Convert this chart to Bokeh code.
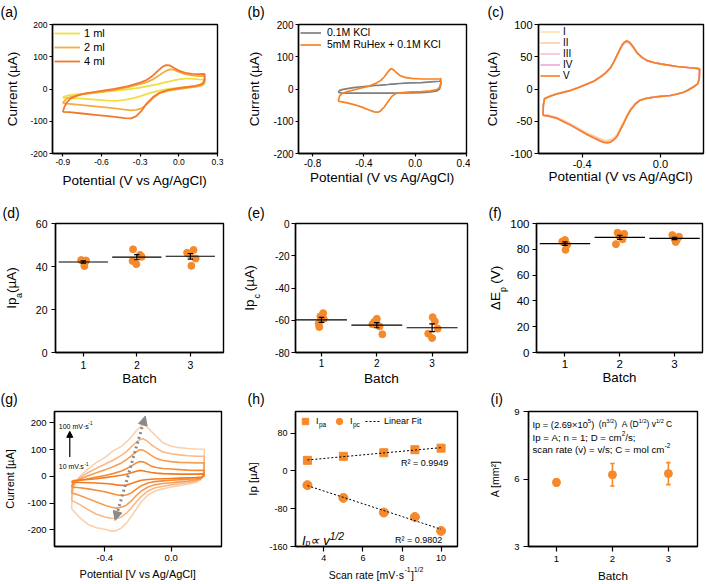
import math
import numpy as np
from bokeh.plotting import figure
from bokeh.layouts import column, row
from bokeh.models import (Range1d, FixedTicker, NumeralTickFormatter, Label, Legend,
                          LegendItem, Arrow, NormalHead, LinearAxis, AllLabels)
from bokeh.embed import file_html
from bokeh.resources import INLINE

FONT = "Liberation Sans"
ORANGE = "#F58A2C"

# ---------------- (a) CVs for three deposition volumes ----------------
a_E_fwd = [-0.90, -0.89, -0.87, -0.84, -0.80, -0.75, -0.70, -0.60, -0.50, -0.40, -0.30, -0.25,
           -0.20, -0.16, -0.13, -0.10, -0.07, -0.04, 0.00, 0.05, 0.10, 0.15, 0.20]
a_E_rev = [0.20, 0.19, 0.17, 0.13, 0.08, 0.00, -0.08, -0.15, -0.20, -0.25, -0.29, -0.33,
           -0.37, -0.42, -0.48, -0.55, -0.65, -0.75, -0.85, -0.90]
a_I_1ml = [-27, -24, -21, -19, -17, -15, -13, -10, -6, -1, 4, 8, 12, 15, 18, 21, 24, 27, 30, 32, 32, 30, 29,
           20, 14, 11, 9, 7, 4, 0, -5, -10, -16, -21, -26, -30, -34, -37, -36, -33, -30, -28, -27]
a_I_2ml = [-44, -38, -30, -25, -21, -17, -14, -9, -3, 5, 15, 21, 30, 40, 49, 56, 61, 60, 53, 46, 42, 40, 41,
           22, 14, 10, 7, 4, 0, -5, -13, -28, -48, -60, -65, -66, -64, -61, -58, -54, -50, -46, -44]
a_I_4ml = [-71, -58, -42, -30, -22, -16, -12, -6, 0, 8, 20, 28, 42, 57, 68, 74, 73, 66, 57, 50, 47, 46, 47,
           30, 20, 14, 10, 7, 3, -3, -12, -25, -45, -68, -84, -91, -90, -87, -84, -80, -76, -72, -71]
a_names = ["1 ml", "2 ml", "4 ml"]

# ---------------- (b) blank electrolyte vs. RuHex ----------------
b_E_fwd = [-0.60, -0.59, -0.57, -0.53, -0.48, -0.42, -0.36, -0.31, -0.27, -0.24, -0.21, -0.19,
           -0.17, -0.15, -0.12, -0.08, -0.03, 0.05, 0.12, 0.19, 0.20]
b_E_rev = [0.20, 0.19, 0.17, 0.12, 0.05, -0.03, -0.10, -0.15, -0.18, -0.21, -0.24, -0.27,
           -0.29, -0.32, -0.36, -0.41, -0.47, -0.53, -0.58, -0.60]
b_I_kcl = [-10, -5, -2, 1, 4, 7, 9, 11, 12, 13, 14, 15, 15, 16, 17, 18, 19, 20, 22, 24, 26,
           15, 0, -6, -9, -11, -12, -12, -13, -13, -13, -13, -13, -13, -13, -13, -13, -13, -13, -12, -10]
b_I_ruhex = [-38, -22, -14, -8, -3, 3, 9, 17, 26, 38, 54, 63, 60, 52, 42, 36, 33, 31, 31, 31, 32,
             20, 5, -2, -6, -8, -9, -11, -14, -22, -38, -55, -68, -72, -71, -65, -57, -49, -43, -39, -38]
b_names = ["0.1M KCl", "5mM RuHex + 0.1M KCl"]

# ---------------- (c) five repeated electrodes ----------------
c_E_fwd = [-0.600, -0.598, -0.592, -0.560, -0.528, -0.460, -0.420, -0.374, -0.340, -0.306, -0.280,
           -0.255, -0.238, -0.221, -0.205, -0.196, -0.185, -0.174, -0.163, -0.153, -0.136, -0.119,
           -0.094, -0.068, -0.035, 0.000, 0.085, 0.150, 0.187, 0.200]
c_E_rev = [0.200, 0.198, 0.190, 0.170, 0.140, 0.119, 0.080, 0.051, 0.000, -0.034, -0.070, -0.1055,
           -0.130, -0.153, -0.170, -0.187, -0.204, -0.221, -0.238, -0.255, -0.272, -0.290, -0.306,
           -0.340, -0.374, -0.420, -0.460, -0.500, -0.528, -0.560, -0.579, -0.600]
c_I_1 = [-39.5, -23.5, -14, -10, -6.8, -1.8, 2.6, 8, 12.5, 19, 25, 32.5, 41, 51.5, 61, 66.5, 70.5, 72,
         71.5, 69, 62.5, 55, 48.5, 44, 41, 39, 35, 33, 32, 31,
         31, 15, 8, 3.5, -2, -5, -8, -10, -11.5, -12.5, -14, -17, -22.5, -31, -39.5, -50, -60, -70,
         -75.5, -78.5, -79.5, -79, -77, -72.5, -68, -60.5, -54, -48, -44, -41.5, -40, -39.5]
c_I_2 = [-40, -24, -14.5, -10.5, -7, -2, 2.5, 8, 12.5, 19, 25, 32.5, 41.5, 52, 61.5, 67, 71, 72.5,
         72, 69.5, 63, 55.5, 48.5, 44, 41, 39, 35, 33, 32, 31,
         31, 15, 8, 3.5, -2, -5, -8, -10, -11.5, -12.5, -14, -17, -23, -31.5, -40.5, -51, -61, -71,
         -76.5, -79.5, -80.5, -80, -78, -73.5, -69, -61.5, -54.5, -48.5, -44.5, -42, -40.5, -40]
c_I_3 = [-40.5, -24.5, -14.5, -10.5, -7.2, -2.2, 2.3, 7.8, 12.3, 19, 25, 32.8, 41.8, 52.5, 62, 67.5,
         71.5, 73.5, 72.8, 70, 63.5, 55.8, 48.8, 44, 41, 39, 35, 33, 32, 31,
         31, 15, 8, 3.5, -2, -5, -8, -10, -11.5, -12.6, -14.2, -17.4, -23.5, -32, -41, -52, -62, -72,
         -77.5, -81, -82, -81.5, -79.5, -74.5, -70, -62, -55, -49, -45, -42.5, -41, -40.5]
c_I_4 = [-40.5, -24.5, -14.8, -10.8, -7.4, -2.4, 2.2, 7.7, 12.2, 18.9, 25, 33, 42, 52.8, 62.5, 68, 72,
         74, 73, 70.5, 63.8, 55.9, 48.9, 44, 41, 39, 35, 33, 32, 31,
         31, 15, 8, 3.5, -2, -5, -8, -10, -11.5, -12.6, -14.3, -17.6, -23.8, -32.5, -41.5, -52.5,
         -62.5, -72.8, -78.2, -81.8, -82.8, -82.2, -80.2, -75.2, -70.5, -62.5, -55.5, -49.5, -45.3,
         -42.8, -41.3, -40.8]
c_I_5 = [-41, -25, -15, -11, -7.6, -2.5, 2, 7.6, 12, 18.8, 25, 33, 42, 53, 63, 68.5, 72.5, 74.6, 73.5,
         71, 64, 56, 49, 44, 41, 39, 35, 33, 32, 31,
         31, 15, 8, 3.5, -2, -5, -8, -10, -11.5, -12.7, -14.5, -17.8, -24, -33, -42, -53, -63, -73.6,
         -79, -82.7, -83.8, -83, -81, -76, -71, -63, -56, -50, -45.7, -43, -41.6, -41]
c_names = ["I", "II", "III", "IV", "V"]

# ---------------- (d)-(f) batch reproducibility ----------------
batches = [1, 2, 3]
d_vals = [[43.0, 42.8, 42.5, 42.0, 40.2], [48.0, 45.4, 44.5, 42.6, 41.1], [47.7, 45.7, 43.7, 40.3, 46.4]]
d_jit = [[-0.04, 0.05, -0.01, 0.03, 0.02], [-0.07, 0.06, 0.09, -0.08, -0.01], [0.06, -0.01, 0.10, 0.02, -0.06]]
e_vals = [[-55.6, -57.6, -59.1, -62.1, -64.2], [-59.1, -61.1, -62.5, -63.8, -68.7], [-58.1, -60.7, -65.2, -68.3, -71.0]]
e_jit = [[0.03, -0.02, 0.04, -0.05, -0.04], [0.0, -0.05, -0.08, 0.05, 0.10], [0.01, 0.05, 0.10, -0.07, 0.0]]
f_vals = [[87.2, 85.5, 83.7, 79.6, 86.0], [92.9, 92.0, 89.8, 87.8, 84.0], [91.0, 89.8, 88.3, 87.2, 85.7]]
f_jit = [[0.0, -0.03, 0.04, 0.01, -0.05], [-0.04, 0.08, 0.0, 0.05, -0.07], [-0.04, 0.08, 0.0, 0.04, 0.02]]

# ---------------- (g) scan-rate series ----------------
g_E_fwd = [-0.600, -0.595, -0.58, -0.55, -0.50, -0.45, -0.40, -0.35, -0.30, -0.27, -0.24, -0.21,
           -0.19, -0.17, -0.15, -0.12, -0.09, -0.05, 0.00, 0.05, 0.10, 0.15, 0.20]
g_E_rev = [0.200, 0.195, 0.18, 0.15, 0.10, 0.05, 0.00, -0.05, -0.10, -0.14, -0.18, -0.21, -0.24,
           -0.27, -0.30, -0.33, -0.36, -0.40, -0.45, -0.50, -0.55, -0.60]
g_I_10 = [-22, -18, -15, -14, -12, -9, -5, -1, 4, 8, 13, 19, 22, 21, 18, 14, 12, 10, 9, 8, 8, 8, 9,
          9, 0, -3, -5, -6, -7, -8, -9, -10, -12, -15, -20, -27, -33, -34, -32, -29, -27, -25, -24, -23, -22]
g_I_25 = [-40, -28, -20, -15, -9, -3, 3, 10, 20, 28, 38, 50, 55, 54, 49, 38, 33, 29, 27, 25, 23, 22, 22,
          22, 0, -6, -9, -11, -13, -15, -17, -20, -25, -35, -48, -62, -70, -72, -69, -64, -58, -52, -47, -43, -40]
g_I_50 = [-62, -38, -22, -10, 2, 13, 24, 36, 50, 62, 76, 92, 99, 98, 91, 78, 67, 59, 55, 52, 51, 50, 50,
          50, 5, -8, -14, -18, -21, -24, -27, -32, -40, -55, -72, -92, -108, -116, -119, -116, -108, -96, -84, -72, -62]
g_I_75 = [-90, -50, -25, -5, 14, 30, 45, 60, 78, 92, 110, 128, 137, 140, 134, 118, 105, 91, 84, 80, 77, 75, 75,
          75, 8, -10, -18, -24, -28, -32, -37, -44, -55, -75, -95, -118, -138, -152, -158, -157, -152, -142, -125, -106, -90]
g_I_100 = [-121, -60, -28, 0, 28, 52, 70, 95, 112, 128, 147, 170, 183, 192, 188, 168, 150, 125, 112, 107, 104, 102, 101,
           101, 10, -12, -22, -30, -35, -40, -47, -56, -70, -95, -122, -150, -175, -193, -203, -205, -198, -192, -180, -155, -121]

# ---------------- (h) peak currents vs sqrt(scan rate) ----------------
h_rate = [3.16, 5.0, 7.07, 8.66, 10.0]
h_ipa = [22.5, 31.0, 38.6, 45.0, 48.4]
h_ipc = [-30.0, -57.0, -88.0, -97.5, -127.0]

# ---------------- (i) electroactive area ----------------
i_area = [5.85, 6.19, 6.24]
i_err = [0.16, 0.50, 0.49]

# Arial advance widths (1/1000 em) used to lay out mixed-size titles
ADV = {' ': 278, '(': 333, ')': 333, '[': 278, ']': 278, '+': 584, '-': 333, '.': 278, ',': 278,
       ';': 278, ':': 278, '/': 278, '=': 584, '×': 584, '·': 278, '²': 333, 'µ': 556, 'Δ': 668,
       '∝': 713, '\u2002': 500, '\u2003': 1000, '\u2004': 333, '\u2006': 167,
       'A': 667, 'B': 667, 'C': 722, 'D': 722, 'E': 667, 'F': 611, 'I': 278, 'K': 667,
       'L': 556, 'M': 833, 'R': 722, 'S': 667, 'V': 667, 'a': 556, 'b': 556, 'c': 500, 'd': 556,
       'e': 556, 'f': 278, 'g': 556, 'h': 556, 'i': 222, 'l': 222, 'm': 833, 'n': 556, 'o': 556,
       'p': 556, 'r': 333, 's': 500, 't': 278, 'u': 556, 'v': 500, 'x': 500, 'y': 500}


def text_width(s, size):
    return sum(ADV.get(ch, 556) for ch in s) * size / 1000.0


def style_axis(ax, tick_px, tick_out, standoff):
    ax.axis_line_color = "black"
    ax.axis_line_width = 1.4
    ax.major_tick_line_color = "black"
    ax.major_tick_line_width = 1.2
    ax.major_tick_out = tick_out
    ax.major_tick_in = 0
    ax.minor_tick_line_color = None
    ax.major_label_text_font = FONT
    ax.major_label_text_font_size = f"{tick_px}px"
    ax.major_label_text_color = "black"
    ax.major_label_standoff = standoff
    ax.axis_label_text_font = FONT
    ax.axis_label_text_font_style = "normal"
    ax.axis_label_text_color = "black"


class Panel:
    def __init__(self, w, h, border, xr, yr, xticks, yticks, xfmt, yfmt, tick_px, tick_out,
                 standoff, letter, letter_dx, letter_standoff):
        left, right, top, bottom = border
        self.fw = w - left - right
        self.fh = h - top - bottom
        self.xr, self.yr = xr, yr
        p = figure(width=w, height=h, x_range=Range1d(*xr), y_range=Range1d(*yr),
                   min_border_left=left, min_border_right=right, min_border_top=top,
                   min_border_bottom=bottom, toolbar_location=None, tools="",
                   output_backend="svg")
        p.grid.visible = False
        p.outline_line_color = "black"
        p.outline_line_width = 1.4
        p.background_fill_color = "white"
        p.border_fill_color = "white"
        p.xaxis.ticker = FixedTicker(ticks=xticks)
        p.yaxis.ticker = FixedTicker(ticks=yticks)
        p.xaxis.formatter = NumeralTickFormatter(format=xfmt)
        p.yaxis.formatter = NumeralTickFormatter(format=yfmt)
        for ax in (p.xaxis[0], p.yaxis[0]):
            style_axis(ax, tick_px, tick_out, standoff)
        # panel letter
        p.title.text = letter
        p.title.align = "left"
        p.title.vertical_align = "top"
        p.title.offset = letter_dx
        p.title.standoff = letter_standoff
        p.title.text_font = FONT
        p.title.text_font_size = "14px"
        p.title.text_font_style = "normal"
        p.title.text_color = "black"
        self.p = p

    def xtitle(self, text, size, standoff):
        ax = self.p.xaxis[0]
        ax.axis_label = text
        ax.axis_label_text_font_size = f"{size}px"
        ax.axis_label_standoff = standoff

    def ytitle(self, text, size, standoff):
        ax = self.p.yaxis[0]
        ax.axis_label = text
        ax.axis_label_text_font_size = f"{size}px"
        ax.axis_label_standoff = standoff

    def composite_title(self, side, segs, fs_main, fs_small, s1, s2):
        # an extra, line-less axis carries the small (sub/superscript) pieces as tick labels
        # and the main text (with gaps left open for them) as its axis label
        main, small, at, pos = "", [], [], 0.0
        for seg in segs:
            if seg[1] == "n":
                main += seg[0]
                pos += text_width(seg[0], fs_main)
            else:
                gw = text_width(seg[2], fs_main)
                small.append(seg[0])
                at.append(pos + gw / 2)
                main += seg[2]
                pos += gw
        span = self.fh if side == "left" else self.fw
        start = span / 2 - pos / 2
        ticks = [int(round(start + a)) for a in at]
        overrides = {}
        for t, s in zip(ticks, small):
            overrides[t] = s
            overrides[str(t)] = s
        if side == "left":
            self.p.extra_y_ranges = {"ttl": Range1d(0, span)}
            ax = LinearAxis(y_range_name="ttl")
        else:
            self.p.extra_x_ranges = {"ttl": Range1d(0, span)}
            ax = LinearAxis(x_range_name="ttl")
        ax.ticker = FixedTicker(ticks=ticks)
        ax.major_label_overrides = overrides
        ax.major_label_policy = AllLabels()
        ax.axis_line_color = None
        ax.major_tick_line_color = None
        ax.minor_tick_line_color = None
        ax.major_tick_out = 0
        ax.major_tick_in = 0
        ax.major_label_standoff = s1
        ax.major_label_text_font = FONT
        ax.major_label_text_font_size = f"{fs_small}px"
        ax.major_label_text_color = "black"
        if side == "left":
            ax.major_label_orientation = "parallel"
        ax.axis_label = main
        ax.axis_label_standoff = s2
        ax.axis_label_text_font = FONT
        ax.axis_label_text_font_size = f"{fs_main}px"
        ax.axis_label_text_font_style = "normal"
        ax.axis_label_text_color = "black"
        self.p.add_layout(ax, side)

    def label(self, text, dx, dy, size, align="center", baseline="middle", angle=0.0,
              style="normal"):
        # dx, dy: pixels from the top-left corner of the plotting frame (dy grows downward);
        # spaces become no-break spaces so that they keep their width in the SVG text
        self.p.add_layout(Label(x=self.xr[0], y=self.yr[1], x_offset=dx, y_offset=-dy,
                                text=text.replace(" ", "\u00a0"), text_font=FONT,
                                text_font_size=f"{size:.2f}px", text_align=align,
                                text_baseline=baseline, angle=angle, text_font_style=style,
                                text_color="black"))

    def rich(self, segs, x, yc, size, align="center", style="normal", small=0.66, lift_sup=0.42):
        scale = {"n": 1.0, "sub": 0.66, "sup": small}
        lift = {"n": 0.0, "sub": -0.22, "sup": lift_sup}
        widths = [text_width(t, size * scale[k]) for t, k in segs]
        pos = -sum(widths) / 2 if align == "center" else 0.0
        for (t, k), w in zip(segs, widths):
            up = -0.35 * size + lift[k] * size
            self.label(t, x + pos, yc - up, size * scale[k], align="left", baseline="alphabetic",
                       style=style)
            pos += w


def style_legend(leg, gw, gh, standoff, font_px, margin=2, padding=2):
    leg.location = "top_left"
    leg.border_line_color = None
    leg.background_fill_alpha = 0
    leg.glyph_width = gw
    leg.glyph_height = gh
    leg.label_height = gh
    leg.label_standoff = standoff
    leg.spacing = 0
    leg.margin = margin
    leg.padding = padding
    leg.label_text_font = FONT
    leg.label_text_font_size = f"{font_px}px"
    leg.label_text_color = "black"


# frames within one row share their top and bottom edges
ROW1 = (24, 35)
ROW2 = (33, 34)
ROW3 = (23, 38)

# ---------------- panel (a) ----------------
A = Panel(235, 190, (52, 18) + ROW1, (-0.98, 0.30), (-200, 200), [-0.9, -0.6, -0.3, 0.0, 0.3],
          [-200, -100, 0, 100, 200], "0.0", "0", 8.5, 3, 2, "(a)", -52, 6)
a_E = a_E_fwd + a_E_rev
for I, name, col in zip([a_I_1ml, a_I_2ml, a_I_4ml], a_names, ["#EEE03C", "#F4AD3E", "#F2792B"]):
    A.p.line(a_E, I, line_color=col, line_width=1.8, legend_label=name)
style_legend(A.p.legend[0], 26, 14, 4, 11)
A.xtitle("Potential (V vs Ag/AgCl)", 13.5, 5)
A.ytitle("Current (µA)", 13.5, 7)

# ---------------- panel (b) ----------------
B = Panel(235, 190, (63, 4) + ROW1, (-0.91, 0.40), (-200, 200), [-0.8, -0.4, 0.0, 0.4],
          [-200, -100, 0, 100, 200], "0.0", "0", 10, 3, 2, "(b)", -51, 6)
b_E = b_E_fwd + b_E_rev
for I, name, col in zip([b_I_kcl, b_I_ruhex], b_names, ["#7F7F7F", "#F7821F"]):
    B.p.line(b_E, I, line_color=col, line_width=1.7, legend_label=name)
style_legend(B.p.legend[0], 21, 11, 6, 10.5)
B.xtitle("Potential (V vs Ag/AgCl)", 13.5, 0)
B.ytitle("Current (µA)", 13.5, 8)

# ---------------- panel (c) ----------------
C = Panel(236, 190, (68, 3) + ROW1, (-0.623, 0.22), (-100, 100), [-0.4, 0.0],
          [-100, -50, 0, 50, 100], "0.0", "0", 11, 4, 2, "(c)", -51, 6)
c_E = c_E_fwd + c_E_rev
c_cols = ["#FCE3A6", "#F9CFA8", "#F6BFCB", "#EEA8D8", "#F5801F"]
for I, name, col in zip([c_I_1, c_I_2, c_I_3, c_I_4, c_I_5], c_names, c_cols):
    C.p.line(c_E, I, line_color=col, line_width=1.6, legend_label=name)
style_legend(C.p.legend[0], 20, 11, 3, 10)
C.xtitle("Potential (V vs Ag/AgCl)", 13.5, -2)
C.ytitle("Current (µA)", 13.5, 7)


# ---------------- panels (d)-(f) ----------------
def batch_plot(P, vals, jit):
    xs, ys = [], []
    for b, v, j in zip(batches, vals, jit):
        xs += [b + o for o in j]
        ys += v
    P.p.scatter(xs, ys, size=7, color=ORANGE, line_color=ORANGE)
    bx = np.array(batches, dtype=float)
    means = np.array([np.mean(v) for v in vals])
    sems = np.array([np.std(v, ddof=1) / np.sqrt(len(v)) for v in vals])
    P.p.segment(bx - 0.46, means, bx + 0.46, means, line_color="black", line_width=1.2)
    P.p.segment(bx, means - sems, bx, means + sems, line_color="black", line_width=1.2)
    P.p.segment(bx - 0.05, means - sems, bx + 0.05, means - sems, line_color="black", line_width=1.2)
    P.p.segment(bx - 0.05, means + sems, bx + 0.05, means + sems, line_color="black", line_width=1.2)


D = Panel(235, 198, (53, 12) + ROW2, (0.48, 3.62), (0, 60), batches, [0, 20, 40, 60],
          "0", "0", 10.5, 4, 4, "(d)", -53, 2)
batch_plot(D, d_vals, d_jit)
D.xtitle("Batch", 13.5, -1)
D.composite_title("left", [("Ip", "n"), ("a", "s", "\u2004"), ("(µA)", "n")], 13.5, 9, 8, -7)

E = Panel(235, 198, (60, 3) + ROW2, (0.53, 3.64), (-80, 0), batches, [-80, -60, -40, -20, 0],
          "0", "0", 10, 4, 2, "(e)", -48, 2)
batch_plot(E, e_vals, e_jit)
E.xtitle("Batch", 13.7, 1)
E.composite_title("left", [("Ip", "n"), ("c", "s", "\u2004"), (" (µA)", "n")], 13.5, 9, 10, -7)

F = Panel(236, 198, (66, 4) + ROW2, (0.48, 3.51), (0, 100), batches, [0, 20, 40, 60, 80, 100],
          "0", "0", 11.5, 4, 3, "(f)", -48, 2)
batch_plot(F, f_vals, f_jit)
F.xtitle("Batch", 13.3, -1)
F.composite_title("left", [("ΔE", "n"), ("p", "s", "\u2004"), (" (V)", "n")], 13.5, 9, -1, -7)

# ---------------- panel (g) ----------------
G = Panel(235, 196, (54, 14) + ROW3, (-0.703, 0.303), (-262.4, 242.2), [-0.4, 0.0],
          [-200, -100, 0, 100, 200], "0.0", "0", 9.5, 5, 3, "(g)", -54, 5)
g_E = g_E_fwd + g_E_rev
g_series = [g_I_100, g_I_75, g_I_50, g_I_25, g_I_10]
g_cols = ["#FBD1AD", "#F9B886", "#F79E55", "#F58C36", "#F47B20"]
for I, col in zip(g_series, g_cols):
    G.p.line(g_E, I, line_color=col, line_width=1.6)
G.p.add_layout(Arrow(end=NormalHead(size=9, fill_color="#8A8A8A", line_color="#8A8A8A"),
                     start=NormalHead(size=9, fill_color="#8A8A8A", line_color="#8A8A8A"),
                     x_start=-0.338, y_start=-165, x_end=-0.156, y_end=225,
                     line_color="#8A8A8A", line_width=3, line_dash="2 3"))
G.p.add_layout(Arrow(end=NormalHead(size=6, fill_color="black", line_color="black"),
                     x_start=-0.611, y_start=72, x_end=-0.611, y_end=168,
                     line_color="black", line_width=1.2))
G.rich([("100 mV·s", "n"), ("-1", "sup")], 4.3, 12.3, 7, align="left")
G.rich([("10 mV.s", "n"), ("-1", "sup")], 4.3, 53, 7, align="left")
G.xtitle("Potential [V vs Ag/AgCl]", 11, 4)
G.ytitle("Current [µA]", 11, 8)

# ---------------- panel (h) ----------------
H = Panel(235, 196, (60, 13) + ROW3, (2.55, 10.84), (-160, 126), [4, 6, 8, 10],
          [-160, -80, 0, 80], "0", "0", 9, 5, 3, "(h)", -48, 5)
sq = H.p.scatter(h_rate, h_ipa, marker="square", size=8, color=ORANGE)
ci = H.p.scatter(h_rate, h_ipc, marker="circle", size=9, color=ORANGE)
hx = np.array([min(h_rate), max(h_rate)])
ka, ba = np.polyfit(h_rate, h_ipa, 1)
kc, bc = np.polyfit(h_rate, h_ipc, 1)
fa = H.p.line(hx, ka * hx + ba, line_color="black", line_dash="2 2", line_width=1)
H.p.line(hx, kc * hx + bc, line_color="black", line_dash="2 2", line_width=1)
hleg = Legend(items=[LegendItem(label="I", renderers=[sq]), LegendItem(label="I", renderers=[ci]),
                     LegendItem(label="Linear Fit", renderers=[fa])], orientation="horizontal")
style_legend(hleg, 16, 16, 3, 9, margin=2, padding=0)
hleg.spacing = 3
hleg.label_width = 12
H.p.add_layout(hleg)
H.label("pa", 23.5, 13, 6.5, align="left")
H.label("pc", 57.5, 13, 6.5, align="left")
H.label("R² = 0.9949", 152.7, 51.3, 9, align="right")
H.label("R² = 0.9802", 146.7, 128, 9, align="right")
H.rich([("I", "n"), ("p", "sub"), ("∝", "n"), (" v", "n"), ("1/2", "sup")], 27.5, 124, 13,
       style="italic", small=0.8, lift_sup=0.3)
H.composite_title("below", [("Scan rate [mV·s", "n"), ("-1", "s", "\u2002\u2006"), ("]", "n"),
                            ("1/2", "s", "\u2003")], 10.5, 7, 2, -7)
H.ytitle("Ip [µA]", 11.5, 7)

# ---------------- panel (i) ----------------
Ip = Panel(236, 196, (58, 9) + ROW3, (0.5, 3.52), (3, 9), batches, [3, 6, 9],
           "0", "0", 9.5, 5, 4, "(i)", -38, 5)
ib = np.array(batches, dtype=float)
ia = np.array(i_area)
ie = np.array(i_err)
Ip.p.segment(ib, ia - ie, ib, ia + ie, line_color=ORANGE, line_width=1.6)
Ip.p.segment(ib - 0.04, ia - ie, ib + 0.04, ia - ie, line_color=ORANGE, line_width=1.6)
Ip.p.segment(ib - 0.04, ia + ie, ib + 0.04, ia + ie, line_color=ORANGE, line_width=1.6)
Ip.p.scatter(ib, ia, size=8, color=ORANGE)
Ip.rich([("Ip = (2.69×10", "n"), ("5", "sup"), (")", "n")], 4, 10, 9.3, align="left")
Ip.rich([("(n", "n"), ("3/2", "sup"), (")  A (D", "n"), ("1/2", "sup"), (") v", "n"),
         ("1/2", "sup"), (" C", "n")], 70.3, 10, 8.5, align="left")
Ip.rich([("Ip = A; n = 1; D = cm", "n"), ("2", "sup"), ("/s;", "n")], 4, 23, 9.7, align="left")
Ip.rich([("scan rate (v) = v/s; C = mol cm", "n"), ("-2", "sup")], 4, 35, 9.7, align="left")
Ip.xtitle("Batch", 11.7, 4)
Ip.ytitle("A [mm²]", 10.5, 10)

layout = column(row(A.p, B.p, C.p), row(D.p, E.p, F.p), row(G.p, H.p, Ip.p))
open("out.html", "w").write(file_html(layout, INLINE))
